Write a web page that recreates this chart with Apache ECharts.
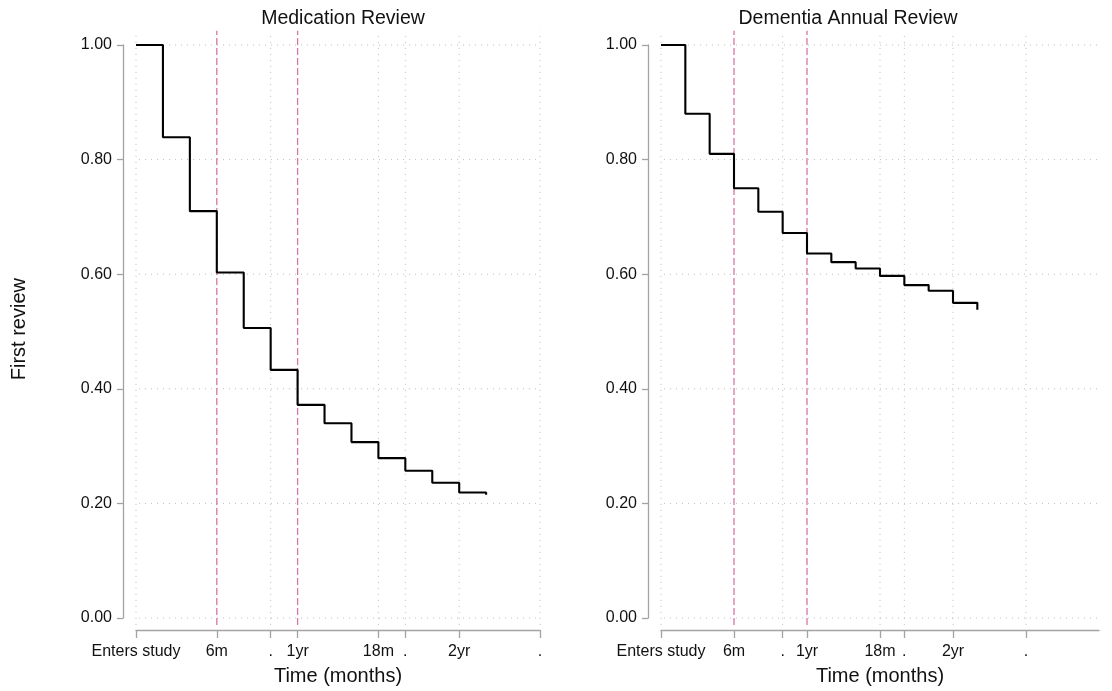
<!DOCTYPE html>
<html>
<head>
<meta charset="utf-8">
<title>Time to first review</title>
<script src="https://cdn.jsdelivr.net/npm/echarts@6/dist/echarts.min.js"></script>
<style>
  html, body { margin: 0; padding: 0; background: #fff; }
  #chart { width: 1112px; height: 691px; }
</style>
</head>
<body>
<div id="chart"></div>
<script>
// Kaplan-Meier estimates: proportion still awaiting a first review, by month since entering the study
const months = [0, 2, 4, 6, 8, 10, 12, 14, 16, 18, 20, 22, 24, 26];
const medicationReview = [1.00, 0.839, 0.710, 0.603, 0.506, 0.433, 0.372, 0.340, 0.307, 0.279, 0.257, 0.236, 0.219, 0.215];
const dementiaReview = [1.00, 0.880, 0.810, 0.750, 0.709, 0.672, 0.636, 0.621, 0.610, 0.597, 0.581, 0.571, 0.550, 0.538];

// x-axis ticks and their labels
const tickMonths = [0, 6, 10, 12, 18, 20, 24, 30];
const tickLabels = ['Enters study', '6m', '.', '1yr', '18m', '.', '2yr', '.'];
// dotted vertical grid lines and dashed reference lines (6 months, 1 year)
const gridMonths = [0, 10, 18, 20, 24, 30];
const guideMonths = [6, 12];
const yTicks = [0, 0.2, 0.4, 0.6, 0.8, 1.0];

const panelTitles = ['Medication Review', 'Dementia Annual Review'];
const panelData = [medicationReview, dementiaReview];
const panelXMax = [30, 36];

const FONT = '"Liberation Sans", Arial, sans-serif';
const AXIS_GREY = '#a3a3a3';
const GRID_GREY = '#bcbcbc';
const GUIDE_PINK = '#d577a6';
const TEXT = '#111';

const grids = [
  { left: 136, top: 45, width: 404, height: 573 },
  { left: 661, top: 45, width: 438, height: 573 }
];

// plot region reaches a little past the axis ranges (in data units)
const regionPad = [
  { x0: -0.22, x1: 30.6, y0: -0.012, y1: 1.025 },
  { x0: -0.25, x1: 36.9, y0: -0.012, y1: 1.025 }
];

const xAxes = grids.map((g, i) => ({
  type: 'value',
  gridIndex: i,
  min: 0,
  max: panelXMax[i],
  offset: 12,
  name: 'Time (months)',
  nameLocation: 'middle',
  nameGap: 36,
  nameTextStyle: { fontFamily: FONT, fontSize: 20, color: TEXT },
  axisLine: { show: true, onZero: false, lineStyle: { color: AXIS_GREY, width: 1.3 } },
  axisTick: { show: true, length: 8, customValues: tickMonths, lineStyle: { color: AXIS_GREY, width: 1.3 } },
  axisLabel: {
    customValues: tickMonths,
    margin: 14,
    fontFamily: FONT, fontSize: 16, color: TEXT,
    formatter: v => { const k = tickMonths.indexOf(v); return k >= 0 ? tickLabels[k] : ''; }
  },
  splitLine: { show: false }
}));

const yAxes = grids.map((g, i) => ({
  type: 'value',
  gridIndex: i,
  min: 0,
  max: 1,
  interval: 0.2,
  offset: 13,
  axisLine: { show: true, onZero: false, lineStyle: { color: AXIS_GREY, width: 1.3 } },
  axisTick: { show: true, length: 6, lineStyle: { color: AXIS_GREY, width: 1.3 } },
  axisLabel: {
    margin: 11,
    fontFamily: FONT, fontSize: 16, color: TEXT,
    formatter: v => v.toFixed(2)
  },
  splitLine: { show: false }
}));

function refLine(panel, pts, color, type, width, z) {
  return {
    type: 'line',
    xAxisIndex: panel,
    yAxisIndex: panel,
    data: pts,
    symbol: 'none',
    silent: true,
    clip: false,
    z: z,
    lineStyle: { color: color, width: width, type: type },
    emphasis: { disabled: true }
  };
}

const series = [];
panelData.forEach((vals, i) => {
  const p = regionPad[i];
  yTicks.forEach(v => series.push(refLine(i, [[p.x0, v], [p.x1, v]], GRID_GREY, [1, 5], 1, 1)));
  gridMonths.forEach(m => series.push(refLine(i, [[m, p.y0], [m, p.y1]], GRID_GREY, [1, 5], 1, 1)));
  guideMonths.forEach(m => series.push(refLine(i, [[m, p.y0], [m, p.y1]], GUIDE_PINK, [7, 3], 1.3, 2)));
  // survival step curve
  series.push({
    type: 'line',
    name: panelTitles[i],
    xAxisIndex: i,
    yAxisIndex: i,
    step: 'end',
    symbol: 'none',
    z: 5,
    lineStyle: { color: '#000', width: 2.1 },
    data: months.map((m, k) => [m, vals[k]])
  });
});

const chart = echarts.init(document.getElementById('chart'), null, { renderer: 'canvas' });
chart.setOption({
  animation: false,
  backgroundColor: '#fff',
  title: [
    { text: panelTitles[0], left: 338, top: 4, textAlign: 'center',
      textStyle: { fontFamily: FONT, fontSize: 19.5, fontWeight: 'normal', color: TEXT } },
    { text: panelTitles[1], left: 843, top: 4, textAlign: 'center',
      textStyle: { fontFamily: FONT, fontSize: 19.5, fontWeight: 'normal', color: TEXT } }
  ],
  graphic: [{
    type: 'text',
    left: 9,
    top: 278,
    rotation: Math.PI / 2,
    style: { text: 'First review', fontFamily: FONT, fontSize: 20, fill: TEXT }
  }],
  grid: grids,
  xAxis: xAxes,
  yAxis: yAxes,
  series: series
});
</script>
</body>
</html>
